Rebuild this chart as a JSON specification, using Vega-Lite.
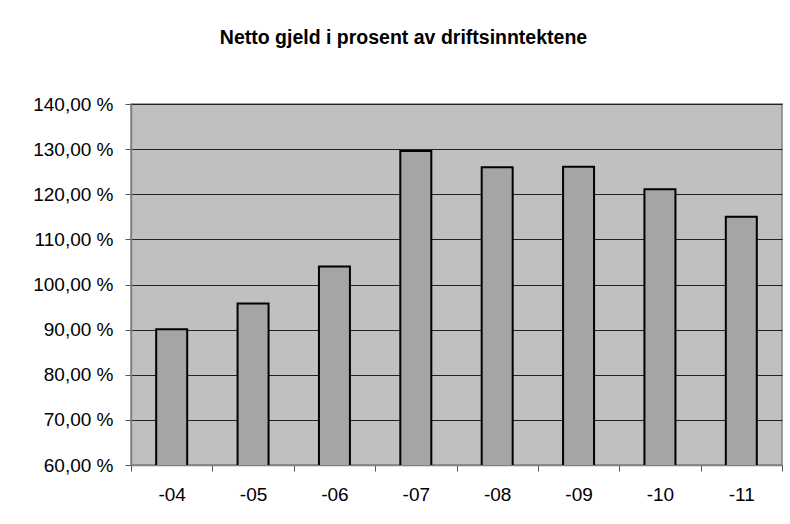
{
  "$schema": "https://vega.github.io/schema/vega-lite/v6.json",
  "autosize": {"type": "none"},
  "width": 651,
  "height": 361,
  "padding": {"left": 131, "top": 104, "right": 8, "bottom": 59},
  "background": "white",
  "title": {
    "text": "Netto gjeld i prosent av driftsinntektene",
    "font": "Liberation Sans",
    "fontSize": 19.5,
    "fontWeight": "bold",
    "color": "black",
    "anchor": "middle",
    "baseline": "alphabetic",
    "dx": -53,
    "offset": 32
  },
  "data": {
    "values": [
      {"year": "-04", "value": 90.1},
      {"year": "-05", "value": 95.8},
      {"year": "-06", "value": 104.0},
      {"year": "-07", "value": 129.6},
      {"year": "-08", "value": 126.0},
      {"year": "-09", "value": 126.1},
      {"year": "-10", "value": 121.1},
      {"year": "-11", "value": 115.0}
    ]
  },
  "mark": {"type": "bar", "fill": "#A5A5A5", "stroke": "black", "strokeWidth": 2, "size": 31, "clip": true},
  "encoding": {
    "x": {
      "field": "year",
      "type": "nominal",
      "sort": null,
      "scale": {"paddingInner": 0, "paddingOuter": 0},
      "axis": {
        "title": null,
        "labelAngle": 0,
        "tickBand": "extent",
        "labelFont": "Liberation Sans",
        "labelFontSize": 19,
        "labelColor": "black",
        "labelPadding": 14,
        "tickSize": 6,
        "tickColor": "#555555",
        "domainColor": "#808080",
        "domainWidth": 1.5,
        "grid": false
      }
    },
    "y": {
      "field": "value",
      "type": "quantitative",
      "scale": {"domain": [60, 140], "nice": false, "zero": false},
      "axis": {
        "title": null,
        "values": [60, 70, 80, 90, 100, 110, 120, 130, 140],
        "labelExpr": "replace(format(datum.value, '.2f'), '.', ',') + ' %'",
        "labelFont": "Liberation Sans",
        "labelFontSize": 19,
        "labelColor": "black",
        "labelPadding": 12,
        "tickSize": 6,
        "tickColor": "#555555",
        "domainColor": "#808080",
        "domainWidth": 1.5,
        "grid": true,
        "gridColor": "#222222",
        "gridWidth": 1,
        "gridOpacity": 1
      }
    }
  },
  "config": {
    "view": {"fill": "#C0C0C0", "stroke": "#808080", "strokeWidth": 1.5}
  }
}
